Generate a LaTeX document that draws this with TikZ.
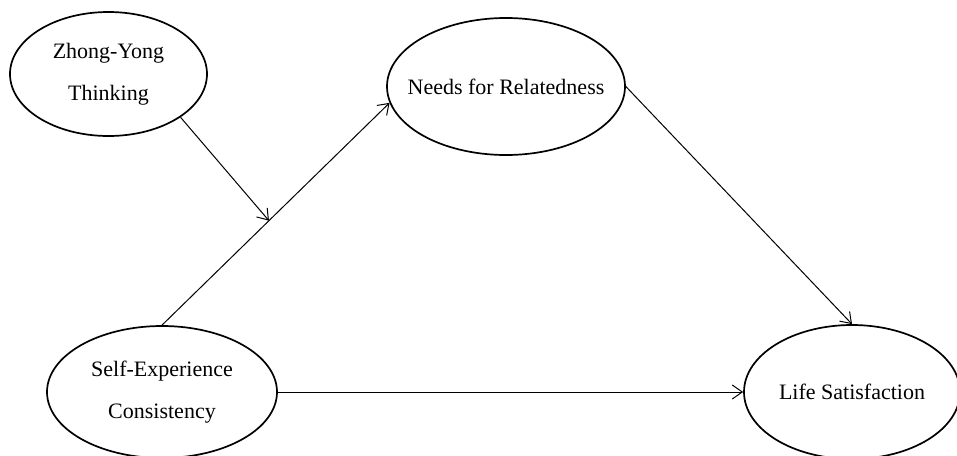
\documentclass[tikz,border=0pt]{standalone}
\usepackage{fontspec}
\setmainfont{Liberation Serif}
\usetikzlibrary{shapes.geometric,arrows.meta}

\tikzset{
  construct/.style={draw,ellipse,line width=0.85pt,inner sep=0pt,align=center,
    font=\fontsize{11}{21}\selectfont},
  path/.style={line width=0.5pt,-{Straight Barb[length=5pt,width=7pt]}}
}

\begin{document}
\begin{tikzpicture}[x=0.5pt,y=-0.5pt]
\useasboundingbox (0,0) rectangle (957,455);

  \node (zy) at (108.5,74) [construct,minimum width=98.5pt,minimum height=62pt] {Zhong-Yong\\Thinking};
  \node (nr) at (506,86.5) [construct,inner xsep=-8pt,minimum width=119pt,minimum height=68.5pt] {Needs for Relatedness};
  \node (se) at (162,392) [construct,minimum width=115pt,minimum height=66pt] {Self-Experience\\Consistency};
  \node (ls) at (852,392) [construct,minimum width=108pt,minimum height=67pt] {Life Satisfaction};

  \draw [path] (se.north) to coordinate[pos=0.47] (join) (nr.188);
  \draw [path] (zy.-31.6) to (join);
  \draw [path] (nr.east) to (ls.north);
  \draw [path] (se.east) to (ls.west);

\end{tikzpicture}
\end{document}
